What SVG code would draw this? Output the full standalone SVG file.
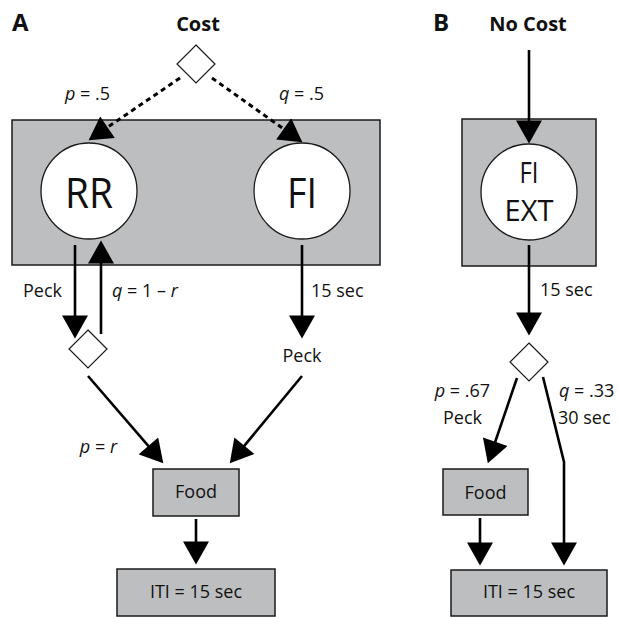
<svg xmlns="http://www.w3.org/2000/svg" width="618" height="617" viewBox="0 0 618 617">
<style>
  text { font-family: "Open Sans", "Noto Sans", "Liberation Sans", sans-serif; fill: #111; }
  .lbl { font-size: 18px; }
  .bold { font-weight: bold; font-size: 20px; }
  .panel { font-weight: bold; font-size: 24px; }
  .big { font-size: 42px; }
  .mid { font-size: 29px; }
  .box { fill: #bcbec0; stroke: #1a1a1a; stroke-width: 1.5; }
  .state { fill: #ffffff; stroke: #1a1a1a; stroke-width: 1.3; }
  .choice { fill: #ffffff; stroke: #1a1a1a; stroke-width: 1.2; }
  .conn { fill: none; stroke: #000; stroke-width: 2.6; marker-end: url(#ah); }
  .dash { stroke-width: 3; stroke-dasharray: 5 4; }
  .i { font-style: italic; }
</style>
<defs>
  <marker id="ah" markerUnits="userSpaceOnUse" markerWidth="24" markerHeight="26" viewBox="0 0 22 25" refX="12" refY="12.5" orient="auto">
    <path d="M0,0 L22,12.5 L0,25 Z" fill="#000"/>
  </marker>
</defs>

<!-- Panel labels -->
<text class="panel" x="12" y="31">A</text>
<text class="panel" x="433" y="31">B</text>

<!-- Panel A nodes -->
<g id="cost-title"><text class="bold" x="198" y="31" text-anchor="middle">Cost</text></g>
<g id="choice-top"><polygon class="choice" points="196,45 215,64 196,83 177,64"/></g>
<g id="group-a"><rect class="box" x="12" y="120" width="368" height="145"/></g>
<g id="rr"><circle class="state" cx="89" cy="191" r="48"/><text class="big" x="89" y="208" text-anchor="middle" textLength="48" lengthAdjust="spacingAndGlyphs">RR</text></g>
<g id="fi"><circle class="state" cx="302" cy="191" r="48"/><text class="big" x="302" y="208" text-anchor="middle" textLength="30" lengthAdjust="spacingAndGlyphs">FI</text></g>
<g id="choice-rr"><polygon class="choice" points="88,330 107,349 88,368 69,349"/></g>
<g id="peck-fi"><text class="lbl" x="302" y="362" text-anchor="middle">Peck</text></g>
<g id="food-a"><rect class="box" x="153" y="469" width="86" height="47"/><text class="lbl" x="196" y="498" text-anchor="middle">Food</text></g>
<g id="iti-a"><rect class="box" x="117" y="569" width="158" height="47"/><text class="lbl" x="196" y="598" text-anchor="middle">ITI = 15 sec</text></g>

<!-- Panel B nodes -->
<g id="nocost-title"><text class="bold" x="528" y="31" text-anchor="middle">No Cost</text></g>
<g id="group-b"><rect class="box" x="462" y="119" width="134" height="147"/></g>
<g id="fiext"><circle class="state" cx="529" cy="192" r="48"/>
  <text class="mid" x="529" y="183" text-anchor="middle" textLength="19" lengthAdjust="spacingAndGlyphs">FI</text>
  <text class="mid" x="529" y="221" text-anchor="middle">EXT</text></g>
<g id="choice-b"><polygon class="choice" points="529,343 548,362 529,381 510,362"/></g>
<g id="food-b"><rect class="box" x="443" y="469" width="85" height="46"/><text class="lbl" x="485.5" y="499" text-anchor="middle">Food</text></g>
<g id="iti-b"><rect class="box" x="451" y="570" width="156" height="46"/><text class="lbl" x="529" y="598" text-anchor="middle">ITI = 15 sec</text></g>

<!-- Connectors -->
<g id="connectors">
  <path class="conn dash" d="M180,78 L97.2,134.3"/>
  <path class="conn dash" d="M212,78 L293.9,136.2"/>
  <path class="conn" d="M75,245 L75,328"/>
  <path class="conn" d="M101,334 L101,251"/>
  <path class="conn" d="M302,245 L302,328"/>
  <path class="conn" d="M88,376 L156.5,455.4"/>
  <path class="conn" d="M302,376 L236.4,455.3"/>
  <path class="conn" d="M196,519 L196,554"/>
  <path class="conn" d="M529,50 L529,133"/>
  <path class="conn" d="M529,245 L529,325"/>
  <path class="conn" d="M517,378 L491.2,453.5"/>
  <path class="conn" d="M543,377 L564,462 L564,555"/>
  <path class="conn" d="M480,518 L480,555"/>
</g>

<!-- Connector labels -->
<g id="connector-labels">
  <text class="lbl" x="87.5" y="100" text-anchor="middle"><tspan class="i">p</tspan> = .5</text>
  <text class="lbl" x="301.5" y="100" text-anchor="middle"><tspan class="i">q</tspan> = .5</text>
  <text class="lbl" x="62" y="297" text-anchor="end">Peck</text>
  <text class="lbl" x="112" y="297"><tspan class="i">q</tspan> = 1 – <tspan class="i">r</tspan></text>
  <text class="lbl" x="311" y="297">15 sec</text>
  <text class="lbl" x="117" y="453" text-anchor="end"><tspan class="i">p</tspan> = <tspan class="i">r</tspan></text>
  <text class="lbl" x="540" y="296">15 sec</text>
  <text class="lbl" x="490" y="397" text-anchor="end"><tspan class="i">p</tspan> = .67</text>
  <text class="lbl" x="482" y="424" text-anchor="end">Peck</text>
  <text class="lbl" x="559" y="397"><tspan class="i">q</tspan> = .33</text>
  <text class="lbl" x="558" y="424">30 sec</text>
</g>
</svg>
